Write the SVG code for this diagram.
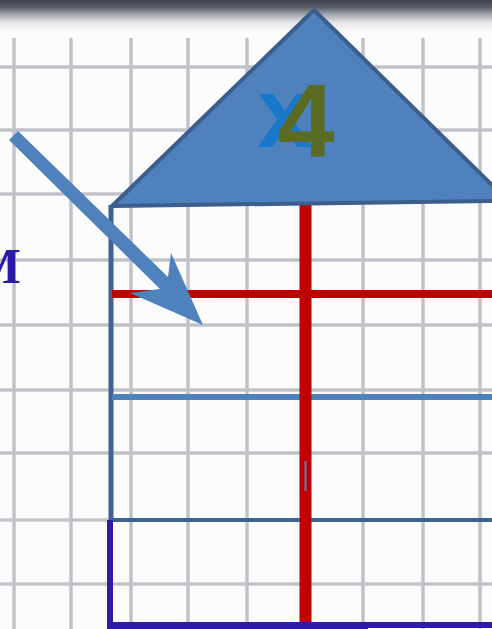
<svg xmlns="http://www.w3.org/2000/svg" width="492" height="629" viewBox="0 0 492 629">
<defs>
<linearGradient id="topband" x1="0" y1="0" x2="0" y2="1">
<stop offset="0" stop-color="#3c414c"/>
<stop offset="0.25" stop-color="#5a5f6a"/>
<stop offset="0.5" stop-color="#a8abb2"/>
<stop offset="0.75" stop-color="#e6e6e8"/>
<stop offset="1" stop-color="#f7f7f7"/>
</linearGradient>
<style>
.grid{stroke:#c0c2ca;stroke-width:3.5;fill:none}
.wall{stroke:#3d6390;stroke-width:5;fill:none}
.red{stroke:#c00000;fill:none}
</style>
</defs>
<rect width="492" height="629" fill="#fcfcfc"/>
<rect width="492" height="30" fill="url(#topband)"/>
<g id="grid">
<path class="grid" d="M14 38V629M71 38V629M131 38V629M188 38V629M247 38V629M306 38V629M363 38V629M423 38V629M480 38V629"/>
<path class="grid" d="M0 67H492M0 130H492M0 194H492M0 260H492M0 325H492M0 390H492M0 453H492M0 520H492M0 584H492"/>
</g>
<g id="label-m">
<text x="21" y="283" text-anchor="end" font-family="Liberation Serif, serif" font-weight="bold" font-size="50" fill="#2a1aa8">M</text>
</g>
<g id="house">
<path class="wall" d="M111 205V522"/>
<path d="M112 520H492" stroke="#3d6390" stroke-width="4"/>
<path d="M112 397H492" stroke="#4f81bd" stroke-width="6"/>
<path class="red" d="M112 294H492" stroke-width="8"/>
<path class="red" d="M305.5 203V629" stroke-width="12"/>
<path d="M305.5 461V491" stroke="#5a7fb8" stroke-width="2"/>
<path d="M110 520V625H492" stroke="#2e1ba8" stroke-width="6" fill="none"/>
<rect x="107" y="626" width="261" height="3" fill="#2e1ba8"/>
</g>
<g id="roof">
<polygon points="112,206 314,10 495,188 495,201" fill="#4f81bd" stroke="#3b5e8c" stroke-width="4" stroke-linejoin="round"/>
<text x="285" y="147" text-anchor="middle" font-family="Liberation Sans, sans-serif" font-weight="bold" font-size="100" fill="#1a78cc">x</text>
<text x="306" y="157" text-anchor="middle" font-family="Liberation Sans, sans-serif" font-weight="bold" font-size="103" fill="#5a6b24">4</text>
</g>
<g id="connectors">
<polygon points="9,140 18,131 168,277 171,253 203,325 130,293 160,289" fill="#4f81bd"/>
</g>
</svg>
